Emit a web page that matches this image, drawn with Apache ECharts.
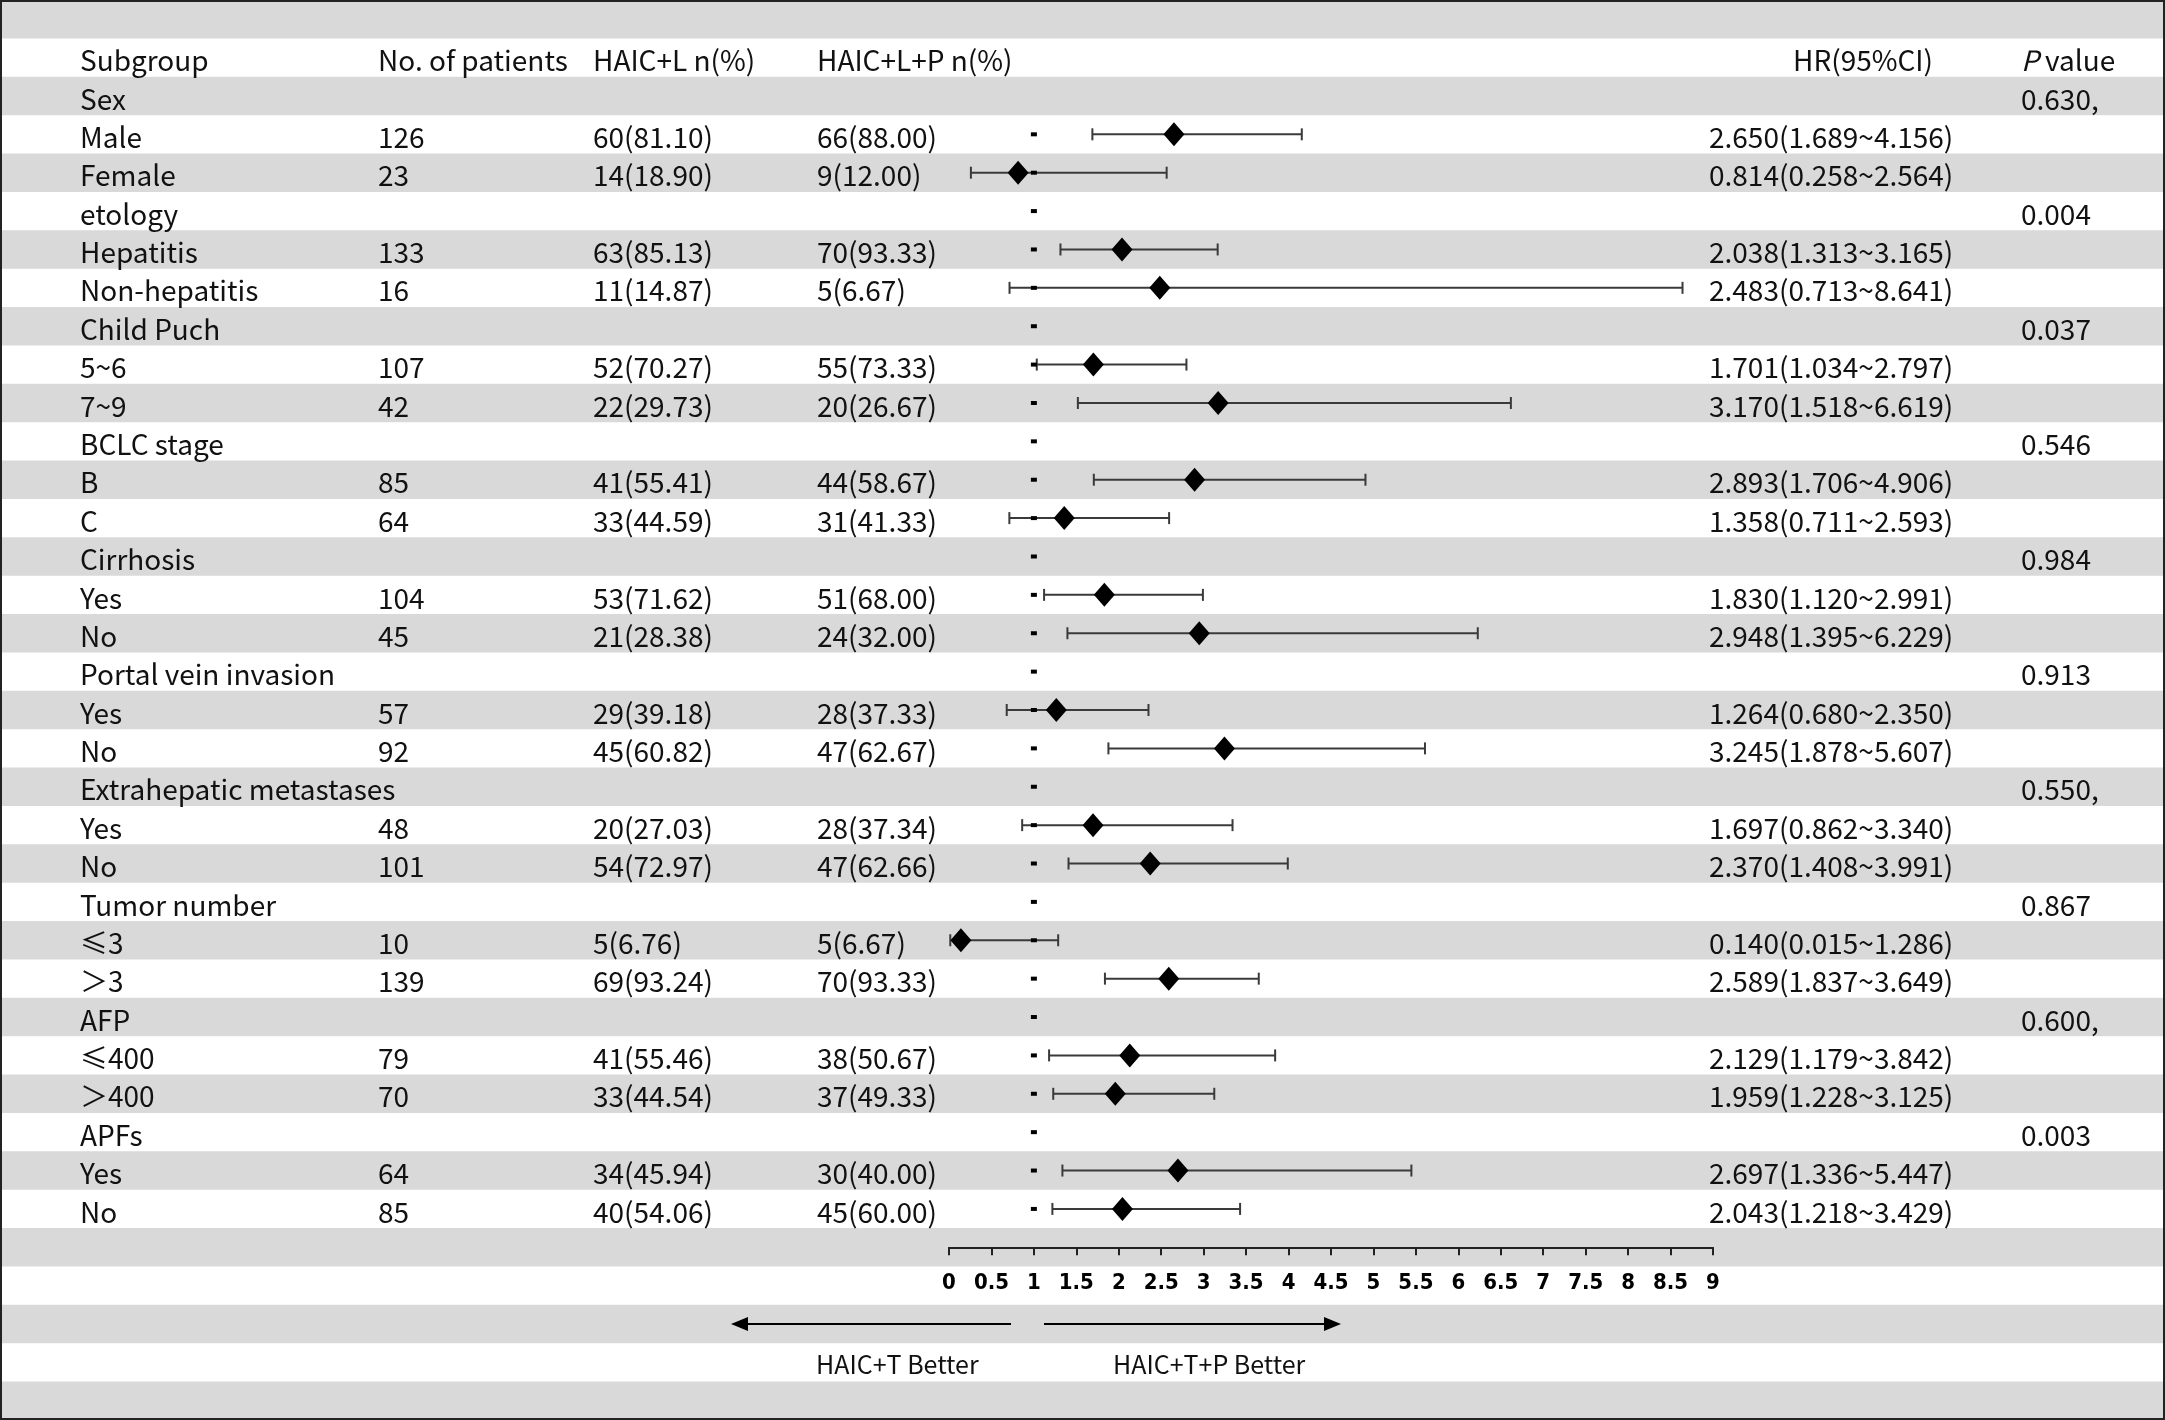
<!DOCTYPE html>
<html>
<head>
<meta charset="utf-8">
<script src="https://cdn.jsdelivr.net/npm/echarts@6/dist/echarts.min.js"></script>
<style>
  html, body { margin: 0; padding: 0; background: #fff; }
  #chart { width: 2165px; height: 1420px; }
</style>
</head>
<body>
<div id="chart"></div>
<script>
// table rows (subgroup column)
var subgroups = ['Sex', 'Male', 'Female', 'etology', 'Hepatitis', 'Non-hepatitis',
    'Child Puch', '5~6', '7~9', 'BCLC stage', 'B', 'C', 'Cirrhosis', 'Yes', 'No',
    'Portal vein invasion', 'Yes', 'No', 'Extrahepatic metastases', 'Yes', 'No',
    'Tumor number', '≤3', '＞3', 'AFP', '≤400', '＞400', 'APFs', 'Yes', 'No'];
var patients = ['', '126', '23', '', '133', '16', '', '107', '42', '', '85', '64', '', '104', '45',
    '', '57', '92', '', '48', '101', '', '10', '139', '', '79', '70', '', '64', '85'];
var haicL = ['', '60(81.10)', '14(18.90)', '', '63(85.13)', '11(14.87)', '', '52(70.27)', '22(29.73)',
    '', '41(55.41)', '33(44.59)', '', '53(71.62)', '21(28.38)', '', '29(39.18)', '45(60.82)',
    '', '20(27.03)', '54(72.97)', '', '5(6.76)', '69(93.24)', '', '41(55.46)', '33(44.54)',
    '', '34(45.94)', '40(54.06)'];
var haicLP = ['', '66(88.00)', '9(12.00)', '', '70(93.33)', '5(6.67)', '', '55(73.33)', '20(26.67)',
    '', '44(58.67)', '31(41.33)', '', '51(68.00)', '24(32.00)', '', '28(37.33)', '47(62.67)',
    '', '28(37.34)', '47(62.66)', '', '5(6.67)', '70(93.33)', '', '38(50.67)', '37(49.33)',
    '', '30(40.00)', '45(60.00)'];
var hr = [null, 2.650, 0.814, null, 2.038, 2.483, null, 1.701, 3.170, null, 2.893, 1.358, null, 1.830, 2.948,
    null, 1.264, 3.245, null, 1.697, 2.370, null, 0.140, 2.589, null, 2.129, 1.959, null, 2.697, 2.043];
var lower = [null, 1.689, 0.258, null, 1.313, 0.713, null, 1.034, 1.518, null, 1.706, 0.711, null, 1.120, 1.395,
    null, 0.680, 1.878, null, 0.862, 1.408, null, 0.015, 1.837, null, 1.179, 1.228, null, 1.336, 1.218];
var upper = [null, 4.156, 2.564, null, 3.165, 8.641, null, 2.797, 6.619, null, 4.906, 2.593, null, 2.991, 6.229,
    null, 2.350, 5.607, null, 3.340, 3.991, null, 1.286, 3.649, null, 3.842, 3.125, null, 5.447, 3.429];
var pValues = ['0.630,', '', '', '0.004', '', '', '0.037', '', '', '0.546', '', '', '0.984', '', '',
    '0.913', '', '', '0.550,', '', '', '0.867', '', '', '0.600,', '', '', '0.003', '', ''];
var headers = ['Subgroup', 'No. of patients', 'HAIC+L n(%)', 'HAIC+L+P n(%)', 'HR(95%CI)', '{i|P} value'];
var arrowLabels = ['HAIC+T Better', 'HAIC+T+P Better'];

var W = 2165, H = 1420, NROWS = 37;
var ROW_H = H / NROWS;
var FIRST = 2;          // first data row (row 0 = blank band, row 1 = header)
var AXIS_ROW = 32.5;    // axis line sits in the middle of row 32
var FONT = "'Noto Sans CJK SC', 'Noto Sans', sans-serif";
var TXT = '#111';
var FS = 28;
var colX = [80, 378, 593, 817, 1709, 2021];
var headX = [80, 378, 593, 817, 1793, 2021];

function hrText(i) {
    if (hr[i] == null) return '';
    return hr[i].toFixed(3) + '(' + lower[i].toFixed(3) + '~' + upper[i].toFixed(3) + ')';
}

var bandRows = [];
for (var r = 0; r < NROWS; r++) bandRows.push([r]);

var whiskerData = [], diamondData = [], refData = [];
subgroups.forEach(function (s, i) {
    var y = FIRST + i + 0.5;
    if (hr[i] != null) {
        whiskerData.push([lower[i], upper[i], y]);
        diamondData.push([hr[i], y]);
    }
    if (i > 0) refData.push([1, y]);
});

var chart = echarts.init(document.getElementById('chart'));

var arrowY = 34.5 * ROW_H;
var option = {
    backgroundColor: '#fff',
    animation: false,
    grid: { left: 949, width: 764, top: 0, height: AXIS_ROW * ROW_H },
    xAxis: {
        type: 'value', min: 0, max: 9, interval: 0.5,
        axisLine: { show: true, onZero: false, lineStyle: { color: '#222', width: 2 } },
        axisTick: { show: true, length: 8, lineStyle: { color: '#222', width: 2 } },
        splitLine: { show: false },
        axisLabel: {
            margin: 25, color: '#000', fontSize: 22, fontWeight: 'bold',
            fontFamily: "'Liberation Sans Narrow', 'DejaVu Sans Condensed', 'Liberation Sans', sans-serif",
            formatter: function (v) { return String(v); }
        }
    },
    yAxis: { type: 'value', min: 0, max: AXIS_ROW, inverse: true, show: false },
    series: [
        {
            // alternating row bands
            type: 'custom', silent: true, clip: false, z: 0,
            data: bandRows,
            renderItem: function (params, api) {
                var r = api.value(0);
                if (r % 2 !== 0) return null;
                var y0 = api.coord([0, r])[1];
                var y1 = api.coord([0, r + 1])[1];
                return { type: 'rect', shape: { x: 0, y: y0, width: W, height: y1 - y0 }, style: { fill: '#d9d9d9' } };
            }
        },
        {
            // header row
            type: 'custom', silent: true, clip: false, z: 2,
            data: [[1.5]],
            renderItem: function (params, api) {
                var y = api.coord([0, api.value(0)])[1] + 3;
                return {
                    type: 'group',
                    children: headers.map(function (h, k) {
                        return {
                            type: 'text', x: headX[k], y: y,
                            style: {
                                text: h, fill: TXT, fontSize: FS, fontFamily: FONT,
                                verticalAlign: 'middle', align: 'left',
                                rich: { i: { fontStyle: 'italic', fontSize: FS, fontFamily: FONT, fill: TXT } }
                            }
                        };
                    })
                };
            }
        },
        {
            // table body text
            type: 'custom', silent: true, clip: false, z: 2,
            data: subgroups.map(function (s, i) { return [i]; }),
            renderItem: function (params, api) {
                var i = api.value(0);
                var y = api.coord([0, FIRST + i + 0.5])[1] + 3;
                var cells = [subgroups[i], patients[i], haicL[i], haicLP[i], hrText(i), pValues[i]];
                return {
                    type: 'group',
                    children: cells.map(function (c, k) {
                        return {
                            type: 'text', x: colX[k], y: y,
                            style: { text: c, fill: TXT, fontSize: FS, fontFamily: FONT, verticalAlign: 'middle', align: 'left' }
                        };
                    })
                };
            }
        },
        {
            // confidence intervals
            type: 'custom', silent: true, clip: false, z: 3,
            data: whiskerData,
            renderItem: function (params, api) {
                var a = api.coord([api.value(0), api.value(2)]);
                var b = api.coord([api.value(1), api.value(2)]);
                var st = { stroke: '#3a3a3a', lineWidth: 2 };
                return {
                    type: 'group',
                    children: [
                        { type: 'line', shape: { x1: a[0], y1: a[1], x2: b[0], y2: b[1] }, style: st },
                        { type: 'line', shape: { x1: a[0], y1: a[1] - 6, x2: a[0], y2: a[1] + 6 }, style: st },
                        { type: 'line', shape: { x1: b[0], y1: b[1] - 6, x2: b[0], y2: b[1] + 6 }, style: st }
                    ]
                };
            }
        },
        {
            type: 'scatter', silent: true, z: 4,
            symbol: 'rect', symbolSize: [6, 4],
            itemStyle: { color: '#000', opacity: 1 },
            data: refData
        },
        {
            type: 'scatter', silent: true, z: 5,
            symbol: 'diamond', symbolSize: [21, 24],
            itemStyle: { color: '#000', opacity: 1 },
            data: diamondData
        }
    ],
    graphic: [
        // arrows below the axis
        { type: 'line', z: 50, shape: { x1: 1011, y1: arrowY, x2: 745, y2: arrowY }, style: { stroke: '#000', lineWidth: 2 } },
        { type: 'polygon', z: 50, shape: { points: [[731, arrowY], [748, arrowY - 7], [748, arrowY + 7]] }, style: { fill: '#000' } },
        { type: 'line', z: 50, shape: { x1: 1044, y1: arrowY, x2: 1327, y2: arrowY }, style: { stroke: '#000', lineWidth: 2 } },
        { type: 'polygon', z: 50, shape: { points: [[1341, arrowY], [1324, arrowY - 7], [1324, arrowY + 7]] }, style: { fill: '#000' } },
        { type: 'text', z: 50, x: 816, y: 35.5 * ROW_H + 2, style: { text: arrowLabels[0], fill: TXT, fontSize: 25, fontFamily: FONT, verticalAlign: 'middle' } },
        { type: 'text', z: 50, x: 1113, y: 35.5 * ROW_H + 2, style: { text: arrowLabels[1], fill: TXT, fontSize: 25, fontFamily: FONT, verticalAlign: 'middle' } },
        // outer frame
        { type: 'rect', z: 100, shape: { x: 1, y: 1, width: W - 2, height: H - 2 }, style: { fill: null, stroke: '#222', lineWidth: 2 } }
    ]
};

chart.setOption(option);
</script>
</body>
</html>
